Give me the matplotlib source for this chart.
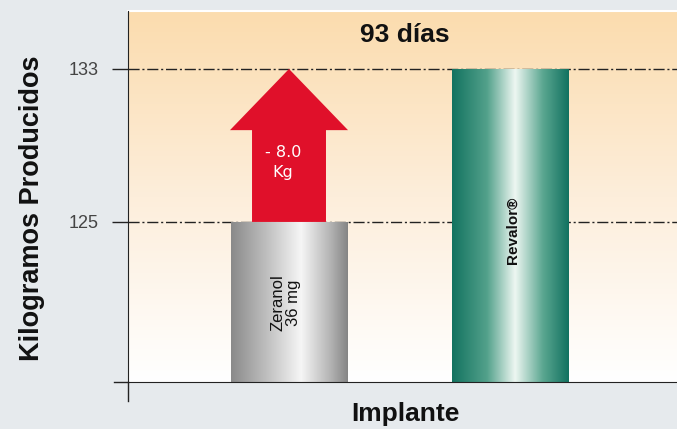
import matplotlib
matplotlib.use("Agg")
import matplotlib.pyplot as plt
import numpy as np
from matplotlib.colors import LinearSegmentedColormap

# data
implantes = ['Zeranol\n36 mg', 'Revalor\u00ae']
kilos = [125, 133]
yticks = [125, 133]
diferencia = '- 8.0\nKg'
titulo = '93 d\u00edas'

plt.rcParams['font.family'] = ['Liberation Sans', 'DejaVu Sans']

fig = plt.figure(figsize=(6.77, 4.29), dpi=100, facecolor='#e6eaed')
ax = fig.add_axes([128 / 677, 1 - 382 / 429, 549 / 677, 371 / 429])
ax.set_facecolor('white')

ax.set_xlim(-0.727, 1.752)
ax.set_ylim(116.63, 136.03)

# peach-to-white background
bg = LinearSegmentedColormap.from_list('bg', ['#ffffff', '#fdeedb', '#fbdcae'])
grad = np.linspace(0, 1, 256).reshape(-1, 1)
ax.imshow(grad, cmap=bg, origin='lower', extent=[0, 1, 0, 1],
          transform=ax.transAxes, aspect='auto', zorder=0)

# dash-dot reference lines
for v in yticks:
    ax.axhline(v, color='#222222', lw=1.0, dashes=(8, 2, 1.5, 2), zorder=1)

x = np.arange(len(implantes))
width = 0.524
bars = ax.bar(x, kilos, width=width, bottom=0, color='none', zorder=2)

metal = [
    LinearSegmentedColormap.from_list('gris', [(0, '#8a8a8a'), (0.3, '#bebebe'), (0.6, '#f6f6f6'),
                                               (0.85, '#b4b4b4'), (1, '#858585')]),
    LinearSegmentedColormap.from_list('verde', [(0, '#137360'), (0.3, '#53a18b'), (0.54, '#eef7f2'),
                                                (0.78, '#5aa690'), (1, '#127260')]),
]
hpos = np.linspace(0, 1, 256).reshape(1, -1)
for b, cm in zip(bars, metal):
    x0, y0 = b.get_x(), ax.get_ylim()[0]
    im = ax.imshow(hpos, cmap=cm, extent=[x0, x0 + b.get_width(), y0, b.get_height()],
                   aspect='auto', zorder=2)
    im.set_clip_path(b)

# bar labels
ax.text(x[0] - 0.014, 120.76, implantes[0], rotation=90, ha='center', va='center',
        fontsize=12, color='#111111', linespacing=1.05, zorder=4)
ax.text(x[1] + 0.01, 124.58, implantes[1], rotation=90, ha='center', va='center',
        fontsize=11, fontweight='bold', color='#111111', zorder=4)

# red arrow showing the difference
dy = kilos[1] - kilos[0]
ax.arrow(x[0], kilos[0], 0, dy, width=0.334, head_width=0.533, head_length=3.2,
         length_includes_head=True, color='#e0102a', ec='none', zorder=3)
ax.text(x[0] - 0.027, 128.11, diferencia, ha='center', va='center',
        fontsize=11.5, color='white', linespacing=1.45, zorder=4,
        family=['DejaVu Sans'])

# axes styling
for s in ['top', 'right']:
    ax.spines[s].set_visible(False)
ax.spines['left'].set_color('#222222')
ax.spines['bottom'].set_color('#222222')
ax.plot([0, 0], [0, -0.05], transform=ax.transAxes, color='#222222',
        lw=1.0, clip_on=False)
ax.plot([-0.025, 0], [0, 0], transform=ax.transAxes, color='#222222',
        lw=1.0, clip_on=False)
ax.plot([0, 1], [1, 1], transform=ax.transAxes, color='white', lw=1.5, clip_on=False)

ax.set_xticks([])
ax.set_yticks(yticks)
ax.set_yticklabels([str(v) for v in yticks], fontsize=13, color='#444444')
ax.tick_params(axis='y', length=11.5, width=1.0, pad=10, color='#222222')

ax.set_ylabel('Kilogramos Producidos', fontsize=19.5, fontweight='bold', color='#111111')
ax.yaxis.set_label_coords(-0.151, 0.469)
ax.set_xlabel('Implante', fontsize=19, fontweight='bold', color='#111111')
ax.xaxis.set_label_coords(0.505, -0.055)

ax.text(0.505, 0.935, titulo, transform=ax.transAxes, ha='center', va='center',
        fontsize=19, fontweight='bold', color='#111111', zorder=4)

fig.savefig('out.png', dpi=100, facecolor=fig.get_facecolor())
